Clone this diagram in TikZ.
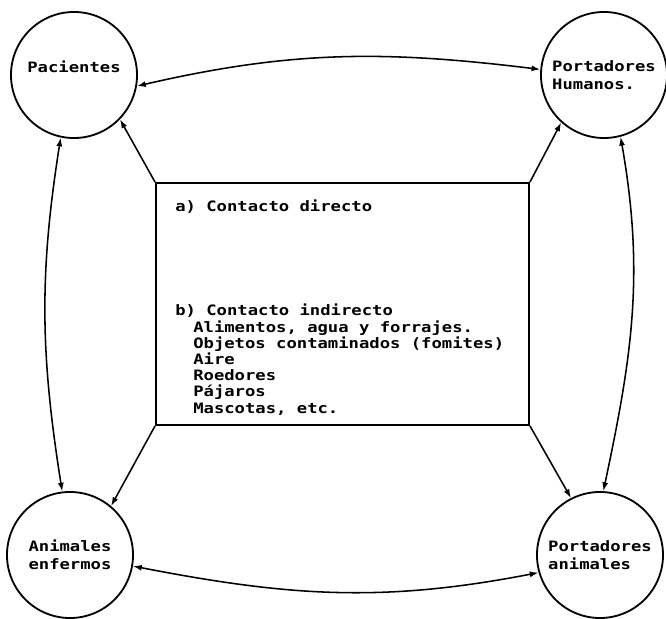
\documentclass[tikz,border=0pt]{standalone}
\usepackage{fontspec}
\newfontfamily\dotfont[FakeStretch=1.2]{DejaVu Sans Mono}
\usetikzlibrary{arrows.meta}

\begin{document}
\begin{tikzpicture}[x=0.025cm, y=0.025cm, >={Latex[length=2.2mm,width=1.5mm]}]

% --- Styles ---
\tikzset{
    host/.style={
        circle,
        draw=black,
        line width=1.3pt,
        minimum size=3.15cm,
        inner sep=0pt,
        align=left,
        font=\dotfont\bfseries\fontsize{10.2}{12.8}\selectfont
    },
    box/.style={
        draw=black,
        line width=1.3pt,
        minimum width=9.325cm,
        minimum height=6.05cm,
        inner sep=0pt
    },
    boxtext/.style={
        anchor=base west,
        inner sep=0pt,
        font=\dotfont\bfseries\fontsize{10.2}{12}\selectfont
    },
    link/.style={<->, line width=1.1pt},
    route/.style={->, line width=1.1pt}
}

\useasboundingbox (0, 0) rectangle (666, 619);

% Reservorios en las esquinas
\node[host, align=center, text depth=12pt] (pac) at (74, 544) {Pacientes};
\node[host] (hum)    at (604, 544) {Portadores\\Humanos.};
\node[host, align=center] (anim) at (70, 64) {Animales\\enfermos};
\node[host] (portan) at (600, 64) {Portadores\\animales};

% Recuadro central con los mecanismos de transmision
\node[box] (box) at (342.5, 315) {};
\node[boxtext] (direct)   at (175, 407) {a) Contacto directo};
\node[boxtext] (indirect) at (175, 303) {b) Contacto indirecto};
\foreach \txt [count=\i] in {{Alimentos, agua y forrajes.},
                             {Objetos contaminados (fomites)},
                             Aire, Roedores, Pájaros, {Mascotas, etc.}}
    \node[boxtext] (ind\i) at (193, 303-16.2*\i) {\txt};

% Flechas dobles entre reservorios
\draw[link] (pac.-10)  to[out=13,  in=173] (hum.175);
\draw[link] (pac.-102) to[out=-99, in=99]  (anim.97);
\draw[link] (hum.-75)  to[out=-80, in=78]  (portan.87);
\draw[link] (anim.-10) to[out=-11, in=191] (portan.196);

% Flechas desde las esquinas del recuadro
\draw[route] (box.north west) -- (pac.-44);
\draw[route] (box.north east) -- (hum.-132);
\draw[route] (box.south west) -- (anim.50);
\draw[route] (box.south east) -- (portan.117);

\end{tikzpicture}
\end{document}
